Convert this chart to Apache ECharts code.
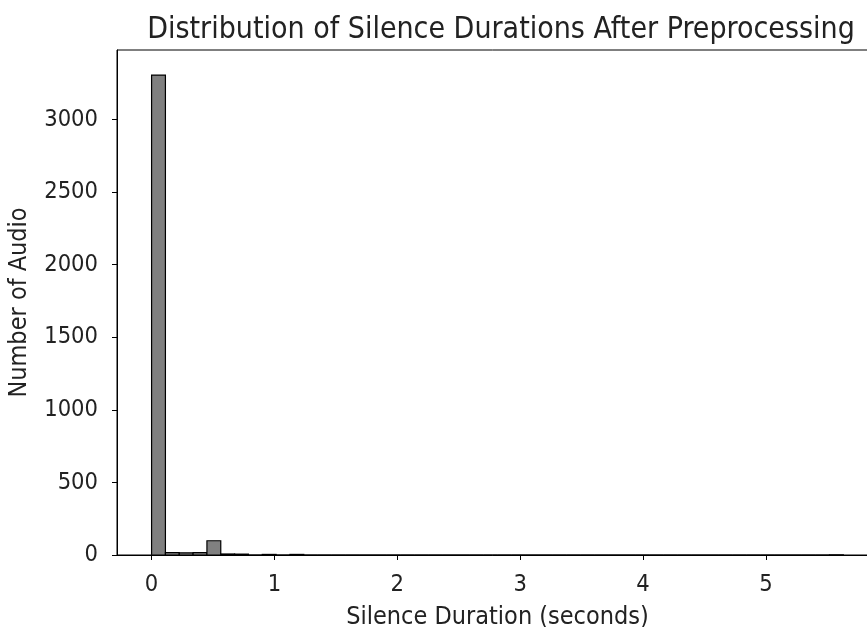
<!DOCTYPE html>
<html><head><meta charset="utf-8">
<script src="https://cdn.jsdelivr.net/npm/echarts@6/dist/echarts.min.js"></script>
<style>html,body{margin:0;padding:0;background:#fff}#c{width:867px;height:627px}</style>
</head><body><div id="c"></div>
<script>
const titleText = 'Distribution of Silence Durations After Preprocessing';
const xLabel = 'Silence Duration (seconds)';
const yLabel = 'Number of Audio';
const binStart = 0;
const binWidth = 0.1126;
const counts = [3305, 16, 15, 17, 98, 7, 6, 0, 4, 0,
                4, 0, 0, 0, 0, 0, 0, 0, 0, 0,
                0, 0, 0, 0, 0, 0, 0, 0, 0, 0,
                0, 0, 0, 0, 0, 0, 0, 0, 0, 0,
                0, 0, 0, 0, 0, 0, 0, 0, 0, 1];
const xTicks = [0, 1, 2, 3, 4, 5];
const yTicks = [0, 500, 1000, 1500, 2000, 2500, 3000];

const bins = counts.map((c, i) => [binStart + i * binWidth, binStart + (i + 1) * binWidth, c]);
const font = '"DejaVu Sans Condensed", "DejaVu Sans", sans-serif';
const chart = echarts.init(document.getElementById('c'), null, {renderer: 'canvas'});
chart.setOption({
  animation: false,
  backgroundColor: '#fff',
  title: {
    text: titleText, left: 496, top: 10, textAlign: 'center',
    textStyle: {fontFamily: font, fontSize: 30, fontWeight: 'normal', color: '#222'}
  },
  grid: {left: 117, top: 50, width: 761, height: 505, show: true, borderColor: '#000', borderWidth: 1, backgroundColor: 'transparent', containLabel: false, outerBoundsMode: 'none'},
  xAxis: {
    type: 'value', min: -0.2815, max: 5.912,
    name: xLabel, nameLocation: 'middle', nameGap: 50,
    nameTextStyle: {fontFamily: font, fontSize: 25, color: '#222'},
    axisLine: {show: true, onZero: false, lineStyle: {color: '#000', width: 1}},
    axisTick: {show: true, length: 5, lineStyle: {color: '#000'}, customValues: xTicks},
    axisLabel: {fontFamily: font, fontSize: 23.5, color: '#222', margin: 18, customValues: xTicks, formatter: v => String(v)},
    splitLine: {show: false}
  },
  yAxis: {
    type: 'value', min: 0, max: 3478,
    name: yLabel, nameLocation: 'middle', nameGap: 85, nameRotate: 90,
    nameTextStyle: {fontFamily: font, fontSize: 25, color: '#222'},
    axisLine: {show: true, onZero: false, lineStyle: {color: '#000', width: 1}},
    axisTick: {show: true, length: 5, lineStyle: {color: '#000'}, customValues: yTicks},
    axisLabel: {fontFamily: font, fontSize: 23.5, color: '#222', margin: 19, customValues: yTicks, formatter: v => String(v)},
    splitLine: {show: false}
  },
  series: [{
    type: 'custom',
    data: bins,
    renderItem: function (params, api) {
      const p0 = api.coord([api.value(0), api.value(2)]);
      const p1 = api.coord([api.value(1), 0]);
      return {
        type: 'rect',
        shape: {x: p0[0], y: p0[1], width: p1[0] - p0[0], height: p1[1] - p0[1]},
        style: {fill: '#808080', stroke: '#000', lineWidth: 1.2}
      };
    }
  }]
});
</script></body></html>
